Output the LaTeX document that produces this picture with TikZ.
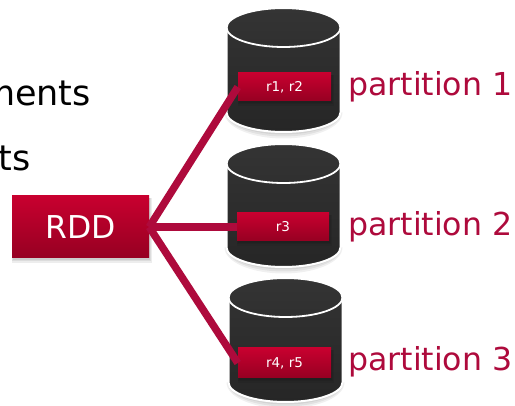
\documentclass[tikz,border=0pt]{standalone}
\usepackage{fontspec}
\setmainfont{DejaVu Sans}
\definecolor{crim}{HTML}{AE0A3C}
\definecolor{redtop}{HTML}{C8002F}
\definecolor{redbot}{HTML}{960022}
\definecolor{cyltop}{HTML}{343434}
\definecolor{cylbot}{HTML}{262626}
\tikzset{
  x=1pt,y=-1pt,
  recbox/.style={draw=none,top color=redtop,bottom color=redbot,text=white,inner sep=0pt,minimum width=93pt,minimum height=28pt,font=\fontsize{13.5}{15}\selectfont},
  rddbox/.style={recbox,minimum width=137pt,minimum height=62pt,font=\fontsize{31.5}{36}\selectfont},
  partlabel/.style={text=crim,anchor=base west,inner sep=0pt,font=\fontsize{31.6}{36}\selectfont},
  bullettext/.style={text=black,anchor=base east,inner sep=0pt,font=\fontsize{35}{40}\selectfont},
  link/.style={draw=crim,line width=7.5pt,line cap=butt},
  shade box/.style={fill=black,opacity=.07}
}
\newcommand{\softbox}[4]{%
  \foreach \d in {0,1.5,3}{
    \fill[shade box] (#1+1-\d/2,#2+2) rectangle (#3+1+\d/2,#4+2+\d);
  }
}
\newcommand{\cyl}[3]{% left x, top y, bottom y
  \pgfmathsetmacro{\xr}{#1+114}
  \pgfmathsetmacro{\xm}{#1+57}
  \pgfmathsetmacro{\yc}{#2+19.5}
  \pgfmathsetmacro{\yb}{#3-19.5}
  \foreach \d in {0,2,4}{
    \fill[black,opacity=.06] (#1-\d/2,\yb) -- (\xr+\d/2,\yb) arc[start angle=0,end angle=-180,x radius=57+\d/2,y radius=-22-\d] -- cycle;
  }
  \path[draw=white,line width=2pt,top color=cyltop,bottom color=cylbot]
    (#1,\yc) -- (#1,\yb) arc[start angle=180,end angle=0,x radius=57,y radius=19.5]
    -- (\xr,\yc) arc[start angle=0,end angle=-180,x radius=57,y radius=19.5] -- cycle;
  \path[draw=white,line width=1.8pt] (#1,\yc) arc[start angle=180,end angle=0,x radius=57,y radius=19.5];
}
\begin{document}
\begin{tikzpicture}
\useasboundingbox (0,0) rectangle (515,406);
\fill[white] (0,0) rectangle (515,406);
\node[bullettext] (t1) at (91,106) {ments};
\node[bullettext] (t2) at (31,171) {ts};
\cyl{226.5}{8}{132}
\cyl{226.5}{144}{267}
\cyl{228.5}{278}{402}
\softbox{238}{73}{331}{101}
\softbox{237}{213}{329}{241}
\softbox{238}{348}{331}{378}
\softbox{12}{196}{149}{258}
\node[rddbox] (rdd) at (80.5,227) {RDD};
\node[recbox] (b1) at (284.5,87) {r1, r2};
\node[recbox,minimum width=92pt] (b2) at (283,227) {r3};
\node[recbox,minimum height=30pt] (b3) at (284.5,363) {r4, r5};
\draw[link] (rdd.east) -- (b1.west);
\draw[link] (rdd.east) -- (b2.west);
\draw[link] (rdd.east) -- (b3.west);
\node[partlabel] (p1) at (348,96) {partition 1};
\node[partlabel] (p2) at (348,236) {partition 2};
\node[partlabel] (p3) at (348,371) {partition 3};
\end{tikzpicture}
\end{document}
